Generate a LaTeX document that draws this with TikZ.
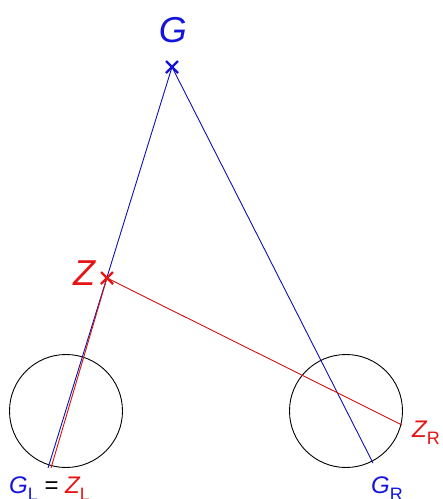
\documentclass[tikz,border=0pt]{standalone}
\usepackage{fontspec}
\setmainfont{Liberation Sans}
\definecolor{gblue}{RGB}{20,20,220}
\definecolor{zred}{RGB}{230,20,20}
\newcommand{\subtx}[1]{\raisebox{-7pt}{\fontsize{18}{18}\selectfont\upshape #1}}
\begin{document}
\begin{tikzpicture}[x=1pt,y=-1pt,
  bluel/.style={draw=gblue!80!black,line width=0.9pt},
  redl/.style={draw=zred!90!black,line width=0.9pt},
  ring/.style={draw=black,circle,line width=0.9pt,minimum size=113pt,inner sep=0pt},
  bigtxt/.style={inner sep=0pt,font=\fontsize{36}{36}\selectfont\itshape},
  smalltxt/.style={inner sep=0pt,font=\fontsize{24}{24}\selectfont},
  cross/.style={line width=2.4pt}]
\useasboundingbox (0,0) rectangle (443,499);
\coordinate (G) at (172,67);
\coordinate (Z) at (107,278);
\coordinate (GL) at (48,468);
\coordinate (ZL) at (51,468);
\coordinate (GR) at (373,463);
\coordinate (ZR) at (402,425);
\node[ring] (cl) at (66,411) {};
\node[ring] (cr) at (346,411) {};
\draw[bluel] (G) -- (GL);
\draw[bluel] (G) -- (GR);
\draw[redl] (Z) -- (ZL);
\draw[redl] (Z) -- (ZR);
\draw[cross,gblue] ([shift={(-6,-6)}]G) -- ([shift={(6,6)}]G) ([shift={(-6,6)}]G) -- ([shift={(6,-6)}]G);
\draw[cross,zred] ([shift={(-6,-6)}]Z) -- ([shift={(6,6)}]Z) ([shift={(-6,6)}]Z) -- ([shift={(6,-6)}]Z);
\node[bigtxt,text=gblue,anchor=base] (lg) at (173,42) {G};
\node[bigtxt,text=zred,anchor=base] (lz) at (84,285) {Z};
\node[smalltxt,anchor=base west] (lgl) at (9,493) {\textcolor{gblue}{\itshape G\subtx{L}} = \textcolor{zred}{\itshape Z\subtx{L}}};
\node[smalltxt,anchor=base west,text=zred] (lzr) at (412,437) {\itshape Z\subtx{R}};
\node[smalltxt,anchor=base west,text=gblue] (lgr) at (371,493) {\itshape G\subtx{R}};
\end{tikzpicture}
\end{document}
